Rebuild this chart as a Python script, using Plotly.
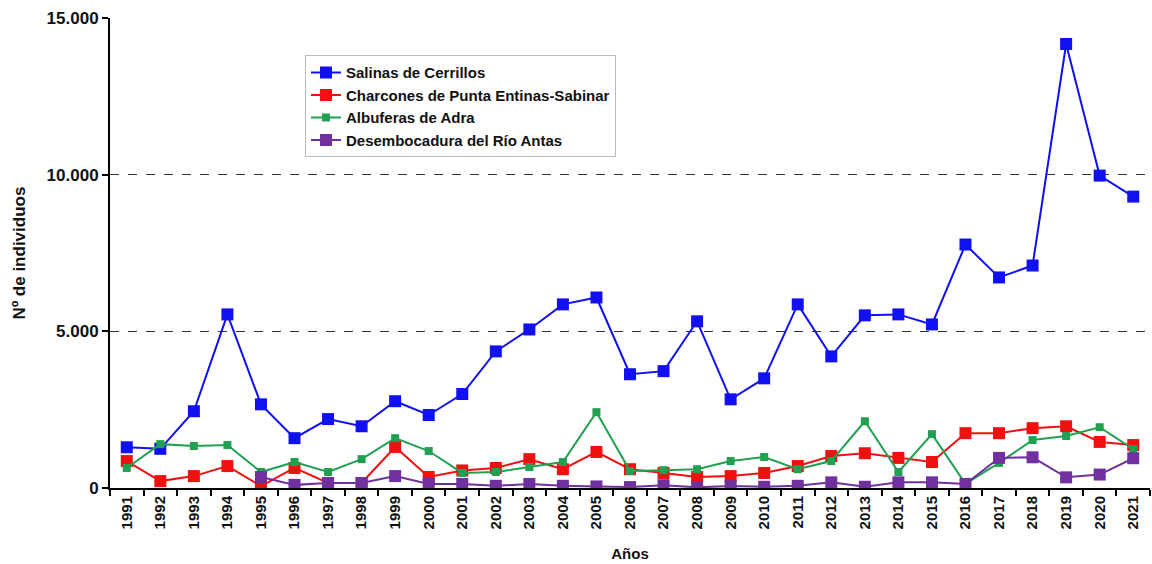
import plotly.graph_objects as go

years = [str(y) for y in range(1991, 2022)]

salinas = [1300, 1250, 2450, 5540, 2670, 1590, 2200, 1970, 2770, 2330, 3000, 4360, 5060,
           5860, 6080, 3630, 3730, 5320, 2830, 3500, 5860, 4200, 5510, 5540, 5220, 7770,
           6720, 7100, 14170, 9970, 9300]
charcones = [860, 220, 380, 700, 60, 640, 160, 160, 1310, 350, 560, 640, 920,
             600, 1150, 600, 480, 350, 380, 480, 700, 1020, 1110, 960, 830, 1750,
             1750, 1910, 1970, 1470, 1370]
adra = [640, 1400, 1340, 1370, 510, 830, 510, 920, 1590, 1180, 480, 510, 670,
        830, 2420, 540, 570, 600, 860, 990, 600, 860, 2130, 510, 1720, 130,
        800, 1530, 1660, 1940, 1240]
antas = [None, None, None, None, 350, 100, 160, 160, 380, 130, 130, 70, 130,
         70, 50, 30, 90, 20, 60, 40, 70, 180, 40, 180, 180, 130,
         960, 980, 340, 430, 950]

names = ["Salinas de Cerrillos", "Charcones de Punta Entinas-Sabinar",
         "Albuferas de Adra", "Desembocadura del Río Antas"]
colors = ["#1010F0", "#F01010", "#20A050", "#7030A0"]
sizes = [12, 12, 8, 12]
series = [salinas, charcones, adra, antas]

fig = go.Figure()
for name, vals, col, sz in zip(names, series, colors, sizes):
    fig.add_trace(go.Scatter(
        x=years, y=vals, name=name, mode="lines+markers",
        line=dict(color=col, width=2),
        marker=dict(symbol="square", size=sz, color=col),
    ))

bold = dict(family="Liberation Sans, Arial, sans-serif", color="#111111", weight="bold")

fig.update_layout(
    width=1152, height=564,
    margin=dict(l=110, r=2, t=18, b=76),
    plot_bgcolor="white", paper_bgcolor="white",
    separators=",.",
    showlegend=True,
    legend=dict(
        x=0.1875, y=0.921, xanchor="left", yanchor="top",
        bgcolor="white", bordercolor="#BBBBBB", borderwidth=1,
        font=dict(size=15, **bold),
        itemwidth=30,
        tracegroupgap=0,
    ),
    xaxis=dict(
        type="category", range=[-0.5, 30.5],
        showline=True, linecolor="black", linewidth=2,
        ticks="outside", tickson="boundaries", ticklen=6, tickcolor="black", tickwidth=1.5,
        tickangle=-90, tickfont=dict(size=15, **bold),
        showgrid=False,
        title=dict(text="Años", font=dict(size=15, **bold), standoff=20),
    ),
    yaxis=dict(
        range=[0, 15000], tickvals=[0, 5000, 10000, 15000], tickformat=",d",
        showline=True, linecolor="black", linewidth=2,
        ticks="outside", ticklen=6, tickcolor="black", tickwidth=1.5,
        tickfont=dict(size=17, **bold),
        showgrid=True, gridcolor="#333333", griddash="dash", gridwidth=1,
        zeroline=False,
        title=dict(text="Nº de individuos", font=dict(size=17, **bold), standoff=17),
    ),
)

fig.write_html("out.html", config={"displayModeBar": False},
               post_script="document.body.style.margin='0';")
